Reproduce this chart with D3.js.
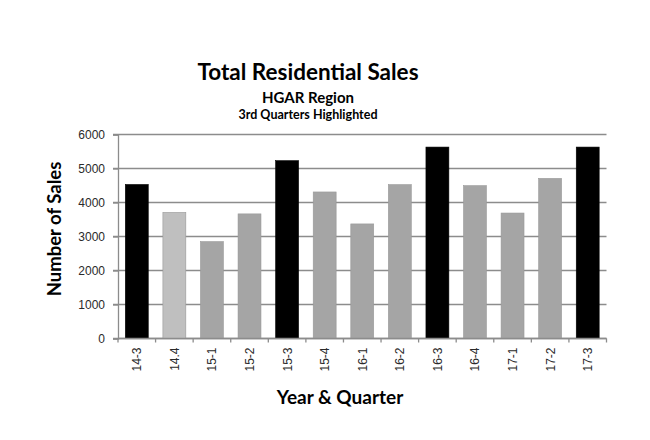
<!DOCTYPE html>
<html>
<head>
<meta charset="utf-8">
<script src="https://cdnjs.cloudflare.com/ajax/libs/d3/7.8.5/d3.min.js"></script>
<style>
body{ margin:0; padding:0; background:#fff; }
svg{ display:block; }
.ttl{ font-family: Lato, "Open Sans", sans-serif; font-weight:bold; fill:#000; }
.tick text{ font-family: "Liberation Sans", Arial, sans-serif; font-size:12px; fill:#2a2a2a; }
</style>
</head>
<body>
<div id="chart"></div>
<script>
var quarters = ["14-3","14.4","15-1","15-2","15-3","15-4","16-1","16-2","16-3","16-4","17-1","17-2","17-3"];
var sales = [4530, 3710, 2850, 3665, 5230, 4310, 3370, 4525, 5630, 4495, 3690, 4710, 5630];
var yTicks = [0, 1000, 2000, 3000, 4000, 5000, 6000];
var barColors = ["#000000","#bfbfbf","#a5a5a5","#a5a5a5","#000000","#a5a5a5","#a5a5a5","#a5a5a5","#000000","#a5a5a5","#a5a5a5","#a5a5a5","#000000"];

var W = 650, H = 440;
var m = {left:118, right:650-606.5, top:134.5, bottom:440-338.5};

var svg = d3.select("#chart").append("svg")
    .attr("width", W).attr("height", H);

var x = d3.scaleBand().domain(quarters)
    .range([m.left, W - m.right]).paddingInner(0.39).paddingOuter(0.195);
var y = d3.scaleLinear().domain([0, 6000]).range([H - m.bottom, m.top]);

// gridlines
svg.append("g").selectAll("line").data(yTicks).enter().append("line")
    .attr("x1", m.left - 5).attr("x2", W - m.right)
    .attr("y1", function(d){ return y(d); }).attr("y2", function(d){ return y(d); })
    .attr("stroke", "#8c8c8c").attr("stroke-width", 1.3);

// bars
svg.append("g").selectAll("rect").data(sales).enter().append("rect")
    .attr("x", function(d, i){ return x(quarters[i]); })
    .attr("width", x.bandwidth())
    .attr("y", function(d){ return y(d); })
    .attr("height", function(d){ return y(0) - y(d); })
    .attr("fill", function(d, i){ return barColors[i]; })
    .attr("stroke", function(d, i){ return barColors[i] == "#000000" ? "#000" : "#999"; })
    .attr("stroke-width", 0.6);

// y axis
var ya = svg.append("g").attr("transform", "translate(" + m.left + ",0)")
    .call(d3.axisLeft(y).tickValues(yTicks).tickSize(5).tickPadding(8).tickFormat(d3.format("d")));
ya.select(".domain").attr("stroke", "#8c8c8c").attr("stroke-width", 1.3);
ya.selectAll(".tick line").attr("stroke", "#8c8c8c").attr("stroke-width", 1.3);

// x axis with ticks at category boundaries
var xa = svg.append("g").attr("transform", "translate(0," + y(0) + ")");
xa.append("line").attr("x1", m.left).attr("x2", W - m.right)
    .attr("stroke", "#8c8c8c").attr("stroke-width", 1.3);
var step = x.step();
var bounds = d3.range(quarters.length + 1);
xa.selectAll(".bt").data(bounds).enter().append("line")
    .attr("x1", function(d){ return m.left + d * step; })
    .attr("x2", function(d){ return m.left + d * step; })
    .attr("y1", 0).attr("y2", 4)
    .attr("stroke", "#8c8c8c").attr("stroke-width", 1.3);
xa.selectAll("text").data(quarters).enter().append("text")
    .attr("transform", function(d){ return "translate(" + (x(d) + x.bandwidth()/2 + 4.5) + ",9) rotate(-90)"; })
    .attr("text-anchor", "end")
    .style("font-family", "'Liberation Sans', Arial, sans-serif")
    .style("font-size", "12px").style("fill", "#2a2a2a")
    .text(function(d){ return d; });

// titles
svg.append("text").attr("class", "ttl").attr("x", 308).attr("y", 80)
    .attr("text-anchor", "middle").style("font-size", "22.5px").text("Total Residential Sales");
svg.append("text").attr("class", "ttl").attr("x", 308).attr("y", 103)
    .attr("text-anchor", "middle").style("font-size", "15px").text("HGAR Region");
svg.append("text").attr("class", "ttl").attr("x", 308).attr("y", 119)
    .attr("text-anchor", "middle").style("font-size", "12.5px").text("3rd Quarters Highlighted");
svg.append("text").attr("class", "ttl").attr("transform", "translate(61,229) rotate(-90)")
    .attr("text-anchor", "middle").style("font-size", "18.5px").text("Number of Sales");
svg.append("text").attr("class", "ttl").attr("x", 340).attr("y", 404)
    .attr("text-anchor", "middle").style("font-size", "19px").text("Year & Quarter");
</script>
</body>
</html>
